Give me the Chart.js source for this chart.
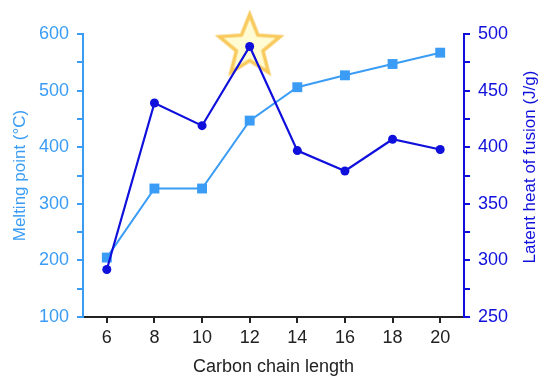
<!DOCTYPE html>
<html><head><meta charset="utf-8">
<script src="https://cdn.jsdelivr.net/npm/chart.js@4.4.1/dist/chart.umd.min.js"></script>
<style>html,body{margin:0;padding:0;background:#fff;}#wrap{width:541px;height:377px;}</style>
</head><body><div id="wrap"><canvas id="c" width="541" height="377"></canvas></div>
<script>
const chainLengths = ['6','8','10','12','14','16','18','20'];
const meltingPoint = [205, 327, 327, 447, 506, 527, 547, 567];
const latentHeat = [292, 439, 419, 489, 397, 379, 407, 398];
const highlight = [null, null, null, 489, null, null, null, null];
const leftTicks = {min:100, max:600, step:50, labelStep:100};
const rightTicks = {min:250, max:500, step:25, labelStep:50};

const LIGHT = '#3a9cf4';
const DARK = '#1010dc';
const FONT = 'Liberation Sans, Arial, sans-serif';

function makeStar(){
  const R = 32, r = 14, s = 74;
  const cv = document.createElement('canvas');
  cv.width = s; cv.height = s;
  const g = cv.getContext('2d');
  g.beginPath();
  for(let i=0;i<10;i++){
    const rad = i%2===0 ? R : r;
    const a = -Math.PI/2 + i*Math.PI/5;
    const x = s/2 + rad*Math.cos(a), y = s/2 + rad*Math.sin(a);
    i===0 ? g.moveTo(x,y) : g.lineTo(x,y);
  }
  g.closePath();
  g.fillStyle = '#fffbd2';
  g.fill();
  g.lineWidth = 3.5;
  g.lineJoin = 'miter';
  g.strokeStyle = '#f8c95c';
  g.stroke();
  return cv;
}

const rightTitle = {
  id:'rightTitle',
  afterDraw(chart){
    const ctx = chart.ctx;
    ctx.save();
    ctx.translate(530, 167);
    ctx.rotate(-Math.PI/2);
    ctx.font = '17px ' + FONT;
    ctx.fillStyle = DARK;
    ctx.textAlign = 'center';
    ctx.textBaseline = 'middle';
    ctx.fillText('Latent heat of fusion (J/g)', 0, 0);
    ctx.restore();
  }
};

new Chart(document.getElementById('c'), {
  type:'line',
  data:{
    labels: chainLengths,
    datasets:[
      {label:'Latent heat', data:latentHeat, yAxisID:'y1', borderColor:DARK, backgroundColor:DARK,
       borderWidth:2.2, pointStyle:'circle', pointRadius:4.5, pointBorderWidth:0, order:0, tension:0},
      {label:'Melting point', data:meltingPoint, yAxisID:'y', borderColor:LIGHT, backgroundColor:LIGHT,
       borderWidth:2, pointStyle:'rect', pointRadius:7, pointBorderWidth:0, order:1, tension:0},
      {label:'Best', data:highlight, yAxisID:'y1', showLine:false, pointStyle:makeStar(),
       pointRadius:30, order:2, clip:false}
    ]
  },
  options:{
    responsive:false, animation:false, devicePixelRatio:1,
    layout:{padding:{top:34, left:0, right:0, bottom:0}},
    plugins:{legend:{display:false}, tooltip:{enabled:false}},
    scales:{
      x:{
        type:'category', offset:true,
        grid:{display:true, drawOnChartArea:false, drawTicks:true, tickLength:6, offset:false, color:'#222', lineWidth:2},
        border:{display:true, color:'#222', width:2},
        ticks:{color:'#222', font:{size:18, family:FONT}, padding:4, maxRotation:0},
        title:{display:true, text:'Carbon chain length', color:'#222', font:{size:18, family:FONT}, padding:{top:0,bottom:-1}},
        afterFit(s){ s.height = 60; }
      },
      y:{
        position:'left', min:leftTicks.min, max:leftTicks.max,
        grid:{display:true, drawOnChartArea:false, tickLength:6, color:LIGHT, lineWidth:2},
        border:{display:true, color:LIGHT, width:2},
        ticks:{stepSize:leftTicks.step, color:LIGHT, font:{size:18, family:FONT}, padding:8,
          callback:v => (v % leftTicks.labelStep === 0 ? String(v) : '')},
        title:{display:true, text:'Melting point (°C)', color:LIGHT, font:{size:17, family:FONT}, padding:{top:10,bottom:0}},
        afterFit(s){ s.width = 83; }
      },
      y1:{
        position:'right', min:rightTicks.min, max:rightTicks.max,
        grid:{display:true, drawOnChartArea:false, tickLength:6, color:DARK, lineWidth:2},
        border:{display:true, color:DARK, width:2},
        ticks:{stepSize:rightTicks.step, color:DARK, font:{size:18, family:FONT}, padding:8,
          callback:v => (v % rightTicks.labelStep === 0 ? String(v) : '')},
        title:{display:false},
        afterFit(s){ s.width = 77; }
      }
    }
  },
  plugins:[rightTitle]
});
</script>
</body></html>
